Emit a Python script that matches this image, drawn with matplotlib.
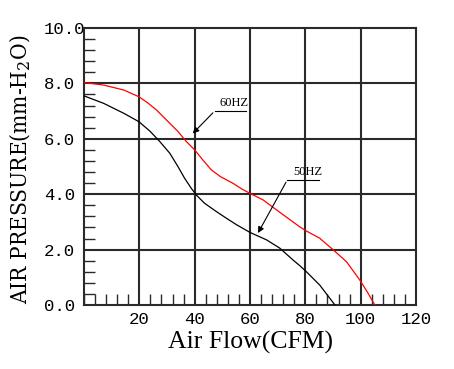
import matplotlib
matplotlib.use("Agg")
import matplotlib.pyplot as plt
from matplotlib import font_manager
from matplotlib.ticker import MultipleLocator, FixedLocator

# Data
flow_60 = [0, 7.1, 14.4, 19.8, 23.0, 26.2, 29.8, 34.0, 37.0, 40.0, 43.0, 46.1, 49.4, 53.9, 57.0,
           60.0, 64.8, 68.4, 73.2, 78.0, 80.4, 85.2, 90.1, 94.9, 99.7, 102.7, 105.1]
pres_60 = [8.03, 7.94, 7.76, 7.52, 7.30, 7.04, 6.68, 6.26, 5.90, 5.60, 5.23, 4.87, 4.63, 4.39, 4.19,
           4.03, 3.79, 3.52, 3.17, 2.82, 2.67, 2.41, 1.99, 1.56, 0.90, 0.42, 0.0]
flow_50 = [0, 7.1, 14.4, 19.8, 23.8, 27.4, 31.0, 34.0, 36.4, 38.8, 40.6, 43.6, 47.9, 51.5, 55.1,
           60.0, 66.0, 70.8, 75.6, 78.0, 80.4, 85.2, 90.7]
pres_50 = [7.55, 7.28, 6.92, 6.62, 6.28, 5.90, 5.48, 4.99, 4.57, 4.21, 3.97, 3.67, 3.37, 3.13, 2.90,
           2.62, 2.35, 2.05, 1.62, 1.42, 1.20, 0.72, 0.0]

x_ticks = [20, 40, 60, 80, 100, 120]
x_ticklabels = ["20", "40", "60", "80", "100", "120"]
y_ticks = [0, 2, 4, 6, 8, 10]
y_ticklabels = ["0.0", "2.0", "4.0", "6.0", "8.0", "10.0"]

# choose a condensed face for the tall narrow axis title, if one is installed
cond_fp = None
for key in ["DejaVuSerifCondensed.ttf", "LiberationSansNarrow-Regular.ttf", "DejaVuSansCondensed.ttf"]:
    for f in font_manager.fontManager.ttflist:
        if f.fname.endswith(key):
            cond_fp = font_manager.FontProperties(fname=f.fname)
            break
    if cond_fp is not None:
        break
if cond_fp is None:
    cond_fp = font_manager.FontProperties(family="Liberation Serif")

fig = plt.figure(figsize=(4.54, 3.69), dpi=100)
ax = fig.add_axes([84/454, 1 - 305/369, (416-84)/454, (305-28)/369])
ax.set_xlim(0, 120)
ax.set_ylim(0, 10)

gridc = "#2a2a2a"
for v in x_ticks[:-1]:
    ax.axvline(v, color=gridc, lw=1.5, zorder=1)
for v in y_ticks[1:-1]:
    ax.axhline(v, color=gridc, lw=1.5, zorder=1)
for s in ax.spines.values():
    s.set_color(gridc)
    s.set_linewidth(1.5)

ax.plot(flow_60, pres_60, color="#ff0000", lw=0.9, zorder=3)
ax.plot(flow_50, pres_50, color="#000000", lw=0.9, zorder=3)

ax.xaxis.set_major_locator(FixedLocator(x_ticks))
ax.set_xticklabels(x_ticklabels)
ax.yaxis.set_major_locator(FixedLocator(y_ticks))
ax.set_yticklabels(y_ticklabels)
ax.xaxis.set_minor_locator(MultipleLocator(4))
ax.yaxis.set_minor_locator(MultipleLocator(0.4))
ax.tick_params(which="major", length=0)
ax.tick_params(which="minor", direction="in", length=8, width=1.0, color=gridc)
ax.tick_params(axis="x", which="major", pad=5)
ax.tick_params(axis="y", which="major", pad=29)

tick_fp = font_manager.FontProperties(family="Liberation Mono", size=12.5)
for lab in ax.get_xticklabels():
    lab.set_fontproperties(tick_fp)
for lab in ax.get_yticklabels():
    lab.set_fontproperties(tick_fp)
    lab.set_ha("left")

ax.set_xlabel("Air Flow(CFM)", family="Liberation Serif", fontsize=18.5, labelpad=3)
yl = ax.set_ylabel("AIR PRESSURE(mm-H$_2$O)", fontproperties=cond_fp)
yl.set_fontsize(16)
yl.set_math_fontfamily("dejavuserif")
ax.yaxis.set_label_coords(-0.154, 0.488)

# fit y label length to the reference (~270 px)
fig.canvas.draw()
ext = yl.get_window_extent(fig.canvas.get_renderer())
yl.set_fontsize(16 * 270.0 / ext.height)

# annotations
ax.annotate("", xy=(38.6, 6.12), xytext=(47.3, 7.01),
            arrowprops=dict(arrowstyle="-|>", color="black", lw=0.8, mutation_scale=9), zorder=4)
ax.plot([47.3, 58.4], [7.01, 7.01], color="black", lw=0.8, zorder=4)
ax.text(48.8, 7.08, "60HZ", family="Liberation Serif", fontsize=9, va="bottom", ha="left", zorder=4)

ax.annotate("", xy=(62.4, 2.51), xytext=(73.5, 4.52),
            arrowprops=dict(arrowstyle="-|>", color="black", lw=0.8, mutation_scale=9), zorder=4)
ax.plot([73.5, 85.0], [4.52, 4.52], color="black", lw=0.8, zorder=4)
ax.text(75.5, 4.6, "50HZ", family="Liberation Serif", fontsize=9, va="bottom", ha="left", zorder=4)

fig.savefig("out.png", dpi=100)
